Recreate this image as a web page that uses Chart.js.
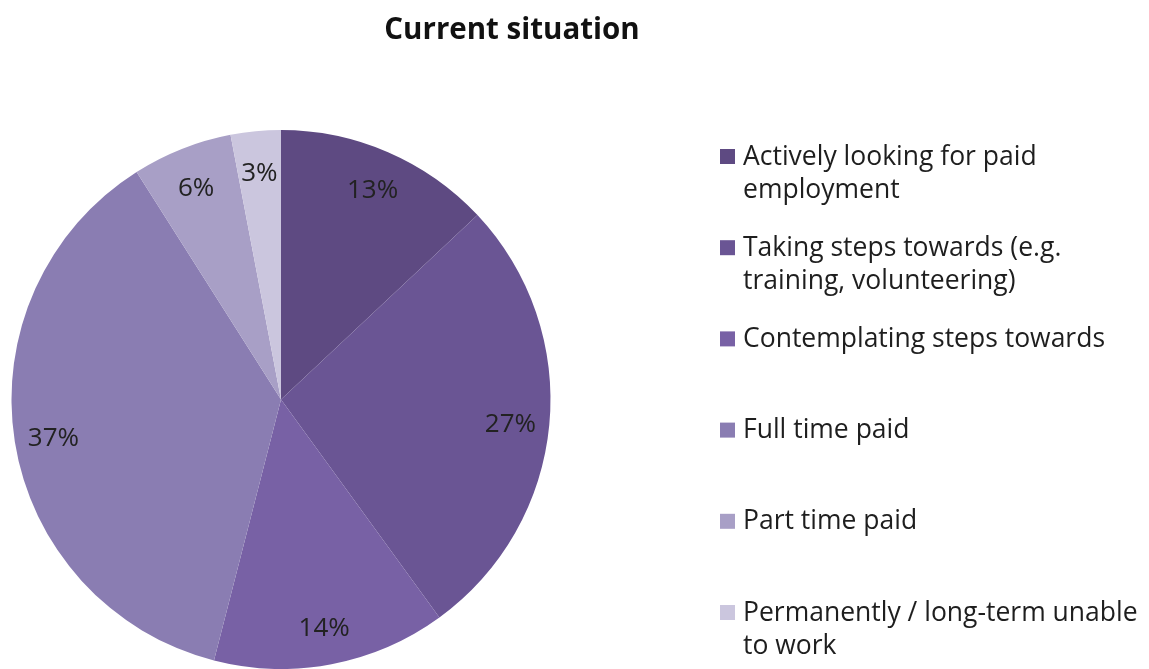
<!DOCTYPE html>
<html>
<head>
<meta charset="utf-8">
<script src="https://cdn.jsdelivr.net/npm/chart.js@4.4.1/dist/chart.umd.min.js"></script>
<style>
  html, body { margin: 0; padding: 0; background: #fff; }
  #wrap { width: 1149px; height: 669px; position: relative; }
</style>
</head>
<body>
<div id="wrap"><canvas id="pie"></canvas></div>
<script>
// datos del grafico
const titulo = 'Current situation';
const categorias = [
    ['Actively looking for paid', 'employment'],
    ['Taking steps towards (e.g.', 'training, volunteering)'],
    ['Contemplating steps towards'],
    ['Full time paid'],
    ['Part time paid'],
    ['Permanently / long-term unable', 'to work']
];
const porcentajes = [13, 27, 14, 37, 6, 3];
const colores = ['#5e4a82', '#6a5594', '#7861a5', '#8a7db2', '#a89fc6', '#cbc6de'];

const FUENTE = '"Open Sans", Lato, sans-serif';

// etiquetas de porcentaje dentro de cada porcion
const etiquetasPlugin = {
    id: 'etiquetas',
    afterDatasetsDraw(chart) {
        const ctx = chart.ctx;
        const meta = chart.getDatasetMeta(0);
        ctx.save();
        ctx.font = '26px ' + FUENTE;
        ctx.fillStyle = '#222';
        ctx.textAlign = 'center';
        ctx.textBaseline = 'middle';
        meta.data.forEach((arc, i) => {
            const mid = (arc.startAngle + arc.endAngle) / 2;
            const r = arc.outerRadius * 0.855;
            const x = arc.x + Math.cos(mid) * r;
            const y = arc.y + Math.sin(mid) * r + 3;
            ctx.fillText(porcentajes[i] + '%', x, y);
        });
        ctx.restore();
    }
};

// titulo y leyenda a la derecha (con saltos de linea)
const leyendaPlugin = {
    id: 'leyenda',
    afterDraw(chart) {
        const ctx = chart.ctx;
        ctx.save();
        ctx.fillStyle = '#111';
        ctx.font = 'bold 29.5px ' + FUENTE;
        ctx.textAlign = 'center';
        ctx.textBaseline = 'middle';
        ctx.fillText(titulo, 512, 31);

        ctx.font = '26.5px ' + FUENTE;
        ctx.textAlign = 'left';
        const x0 = 720, yIni = 157, paso = 91.2, alto = 33;
        chart.data.labels.forEach((lineas, i) => {
            const y = yIni + i * paso;
            ctx.fillStyle = colores[i];
            ctx.fillRect(x0, y - 8, 15, 15);
            ctx.fillStyle = '#1e1e1e';
            lineas.forEach((txt, j) => ctx.fillText(txt, x0 + 23, y + j * alto));
        });
        ctx.restore();
    }
};

new Chart(document.getElementById('pie'), {
    type: 'pie',
    data: {
        labels: categorias,
        datasets: [{
            data: porcentajes,
            backgroundColor: colores,
            borderWidth: 0
        }]
    },
    options: {
        responsive: true,
        maintainAspectRatio: false,
        animation: false,
        layout: { padding: { left: 11, top: 130, right: 598, bottom: 0 } },
        plugins: {
            legend: { display: false },
            tooltip: { enabled: false }
        }
    },
    plugins: [etiquetasPlugin, leyendaPlugin]
});
</script>
</body>
</html>
